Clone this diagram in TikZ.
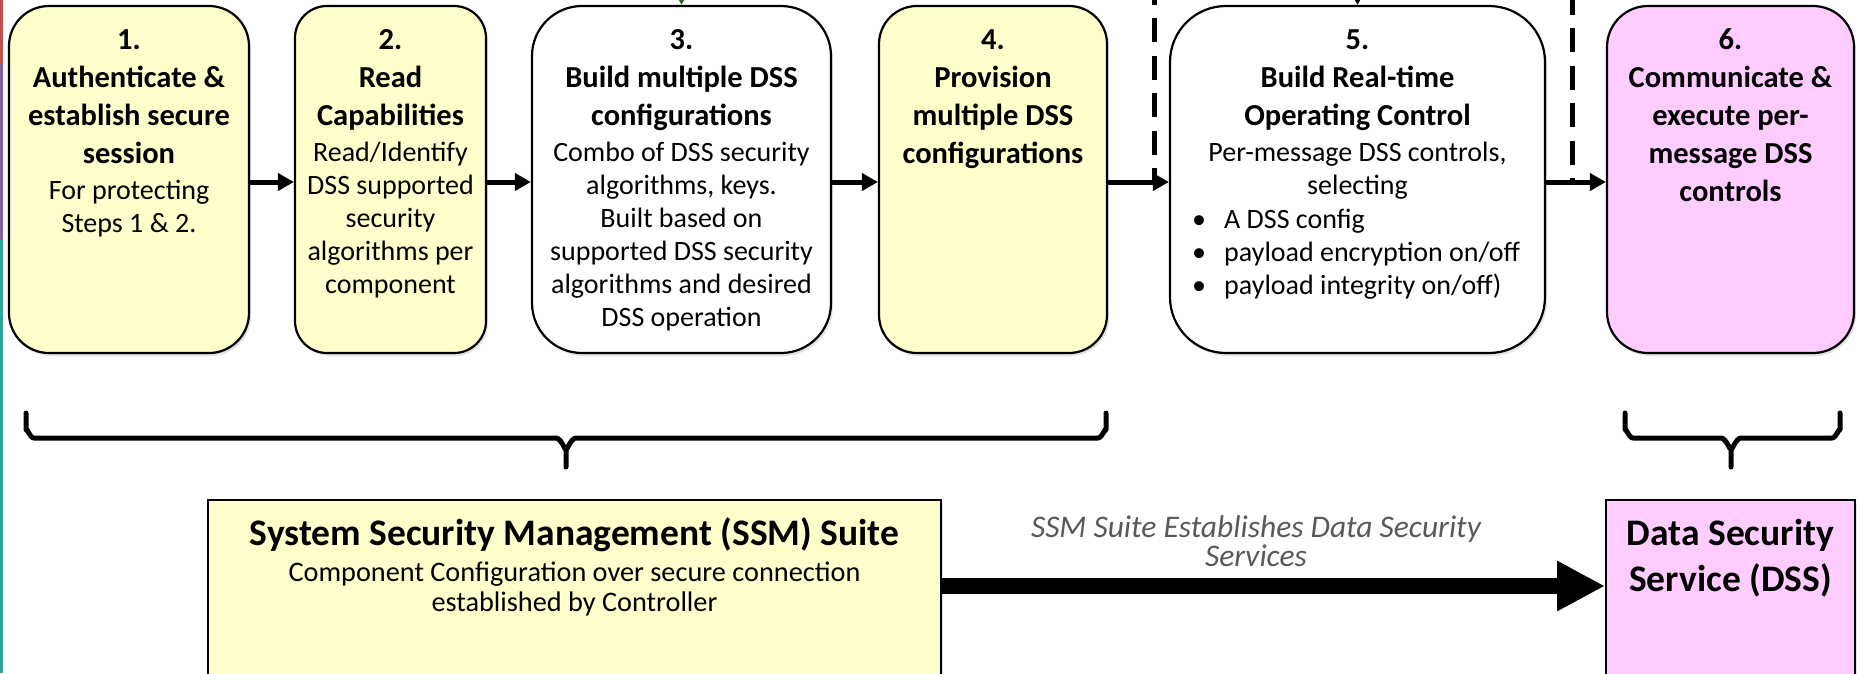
\documentclass[tikz,border=0pt]{standalone}
\usepackage{fontspec}
\setmainfont{Carlito}
\usetikzlibrary{arrows.meta,shadows}
\definecolor{boxyellow}{HTML}{FFFFCC}
\definecolor{boxpink}{HTML}{FFCCFF}
\definecolor{labelgray}{HTML}{595959}
\definecolor{stripered}{HTML}{C0504D}
\definecolor{stripepurple}{HTML}{8064A2}
\definecolor{stripeteal}{HTML}{2FA39A}
\definecolor{tipgreen}{HTML}{3A9A2A}
\newcommand{\tabc}[1]{\begin{tabular}[t]{@{}c@{}}#1\end{tabular}}
\newcommand{\tabl}[1]{\begin{tabular}[t]{@{}l@{}}#1\end{tabular}}
\newcommand{\bul}{\makebox[32pt][l]{\textbullet}}
\begin{document}
\begin{tikzpicture}[x=1pt,y=-1pt,
  shade/.style={drop shadow={shadow xshift=2pt,shadow yshift=-3pt,opacity=0.22}},
  stepbox/.style={draw=black,line width=2.2pt,inner sep=0pt,minimum height=347pt,shade},
  basebox/.style={draw=black,line width=2pt,inner sep=0pt,minimum height=220pt,shade},
  titlefont/.style={font=\bfseries\fontsize{30.5}{38}\selectfont,inner sep=0pt,anchor=base},
  bodyfont/.style={font=\fontsize{28}{33}\selectfont,inner sep=0pt,anchor=base},
  arr/.style={line width=5pt,-{Triangle[length=16pt,width=17pt]}},
  dashline/.style={line width=5pt,dash pattern=on 24pt off 13.5pt},
  brace/.style={line width=5pt,line cap=round,line join=round},
  bigarr/.style={line width=16pt,-{Triangle[length=48pt,width=47pt]}}
]
\useasboundingbox (0,0) rectangle (1857,673);
\clip (0,0) rectangle (1857,673);

% left edge stripes
\fill[stripered] (0,0) rectangle (2.5,64);
\fill[stripepurple] (0,64) rectangle (2.5,240);
\fill[stripeteal] (0,240) rectangle (2.5,673);

% step boxes
\node[stepbox,fill=boxyellow,rounded corners=40pt,minimum width=240pt] (b1) at (129,179.5) {};
\node[stepbox,fill=boxyellow,rounded corners=32pt,minimum width=191pt] (b2) at (390.5,179.5) {};
\node[stepbox,fill=white,rounded corners=50pt,minimum width=299pt] (b3) at (681.5,179.5) {};
\node[stepbox,fill=boxyellow,rounded corners=38pt,minimum width=228pt] (b4) at (993,179.5) {};
\node[stepbox,fill=white,rounded corners=56pt,minimum width=375pt] (b5) at (1357.5,179.5) {};
\node[stepbox,fill=boxpink,rounded corners=41pt,minimum width=247pt] (b6) at (1730.5,179.5) {};

% texts
\node[titlefont] (t1) at (129,49) {\tabc{1.\\Authenticate \&\\establish secure\\session}};
\node[bodyfont] (s1) at (129,199) {\tabc{For protecting\\Steps 1 \& 2.}};
\node[titlefont] (t2) at (390.5,49) {\tabc{2.\\Read\\Capabilities}};
\node[bodyfont] (s2) at (390.5,161) {\tabc{Read/Identify\\DSS supported\\security\\algorithms per\\component}};
\node[titlefont] (t3) at (681.5,49) {\tabc{3.\\Build multiple DSS\\configurations}};
\node[bodyfont] (s3) at (681.5,161) {\tabc{Combo of DSS security\\algorithms, keys.\\Built based on\\supported DSS security\\algorithms and desired\\DSS operation}};
\node[titlefont] (t4) at (993,49) {\tabc{4.\\Provision\\multiple DSS\\configurations}};
\node[titlefont] (t5) at (1357.5,49) {\tabc{5.\\Build Real-time\\Operating Control}};
\node[bodyfont] (s5) at (1357.5,161) {\tabc{Per-message DSS controls,\\selecting}};
\node[bodyfont,anchor=base west] (l5) at (1192,228) {\tabl{\bul A DSS config\\\bul payload encryption on/off\\\bul payload integrity on/off)}};
\node[titlefont] (t6) at (1730.5,49) {\tabc{6.\\Communicate \&\\execute per-\\message DSS\\controls}};

% incoming arrows from above
\coordinate (in3) at (681.5,-40);
\coordinate (in5) at (1357.5,-40);
\draw[arr,draw=tipgreen!70!black,line width=4pt] (in3) -- (b3.north);
\draw[arr,line width=4pt] (in5) -- (b5.north);

% horizontal arrows
\draw[arr] ([yshift=-2.5pt]b1.east) -- ([yshift=-2.5pt]b2.west);
\draw[arr] ([yshift=-2.5pt]b2.east) -- ([yshift=-2.5pt]b3.west);
\draw[arr] ([yshift=-2.5pt]b3.east) -- ([yshift=-2.5pt]b4.west);
\draw[arr] ([yshift=-2.5pt]b4.east) -- ([yshift=-2.5pt]b5.west);
\draw[arr] ([yshift=-2.5pt]b5.east) -- ([yshift=-2.5pt]b6.west);

% dashed lines
\coordinate (d1a) at (1154,-19.5);
\coordinate (d1b) at (1154,180);
\coordinate (d2a) at (1572,-9.5);
\coordinate (d2b) at (1572,180);
\draw[dashline] (d1a) -- (d1b);
\draw[dashline] (d2a) -- (d2b);

% braces
\draw[brace] (26,413) -- (26,430) to[out=90,in=180] (34,438) -- (556,438)
  to[out=0,in=-90] (566,448) -- (566,467);
\draw[brace] (566,448) to[out=-90,in=180] (576,438) -- (1098,438)
  to[out=0,in=90] (1106,430) -- (1106,413);
\draw[brace] (1625,413) -- (1625,430) to[out=90,in=180] (1633,438) -- (1721,438)
  to[out=0,in=-90] (1731,448) -- (1731,467);
\draw[brace] (1731,448) to[out=-90,in=180] (1741,438) -- (1832,438)
  to[out=0,in=90] (1840,430) -- (1840,413);

% bottom boxes
\node[basebox,fill=boxyellow,minimum width=733pt] (ssm) at (574.5,610) {};
\node[basebox,fill=boxpink,minimum width=249pt] (dss) at (1730.5,610) {};
\node[inner sep=0pt,anchor=base,font=\bfseries\fontsize{37.5}{44}\selectfont] (ssmt) at (574.5,545) {System Security Management (SSM) Suite};
\node[inner sep=0pt,anchor=base,font=\fontsize{28.3}{30}\selectfont] (ssms) at (574.5,581) {\tabc{Component Configuration over secure connection\\established by Controller}};
\node[inner sep=0pt,anchor=base,font=\bfseries\fontsize{37.5}{46}\selectfont] (dsst) at (1730.5,545) {\tabc{Data Security\\Service (DSS)}};

% big arrow and label
\draw[bigarr] ([yshift=24pt]ssm.east) -- ([yshift=24pt]dss.west);
\node[inner sep=0pt,anchor=base,text=labelgray,font=\itshape\fontsize{31.5}{26}\selectfont] (lab) at (1256,537) {\tabc{SSM Suite Establishes Data Security\\Services}};
\end{tikzpicture}
\end{document}
